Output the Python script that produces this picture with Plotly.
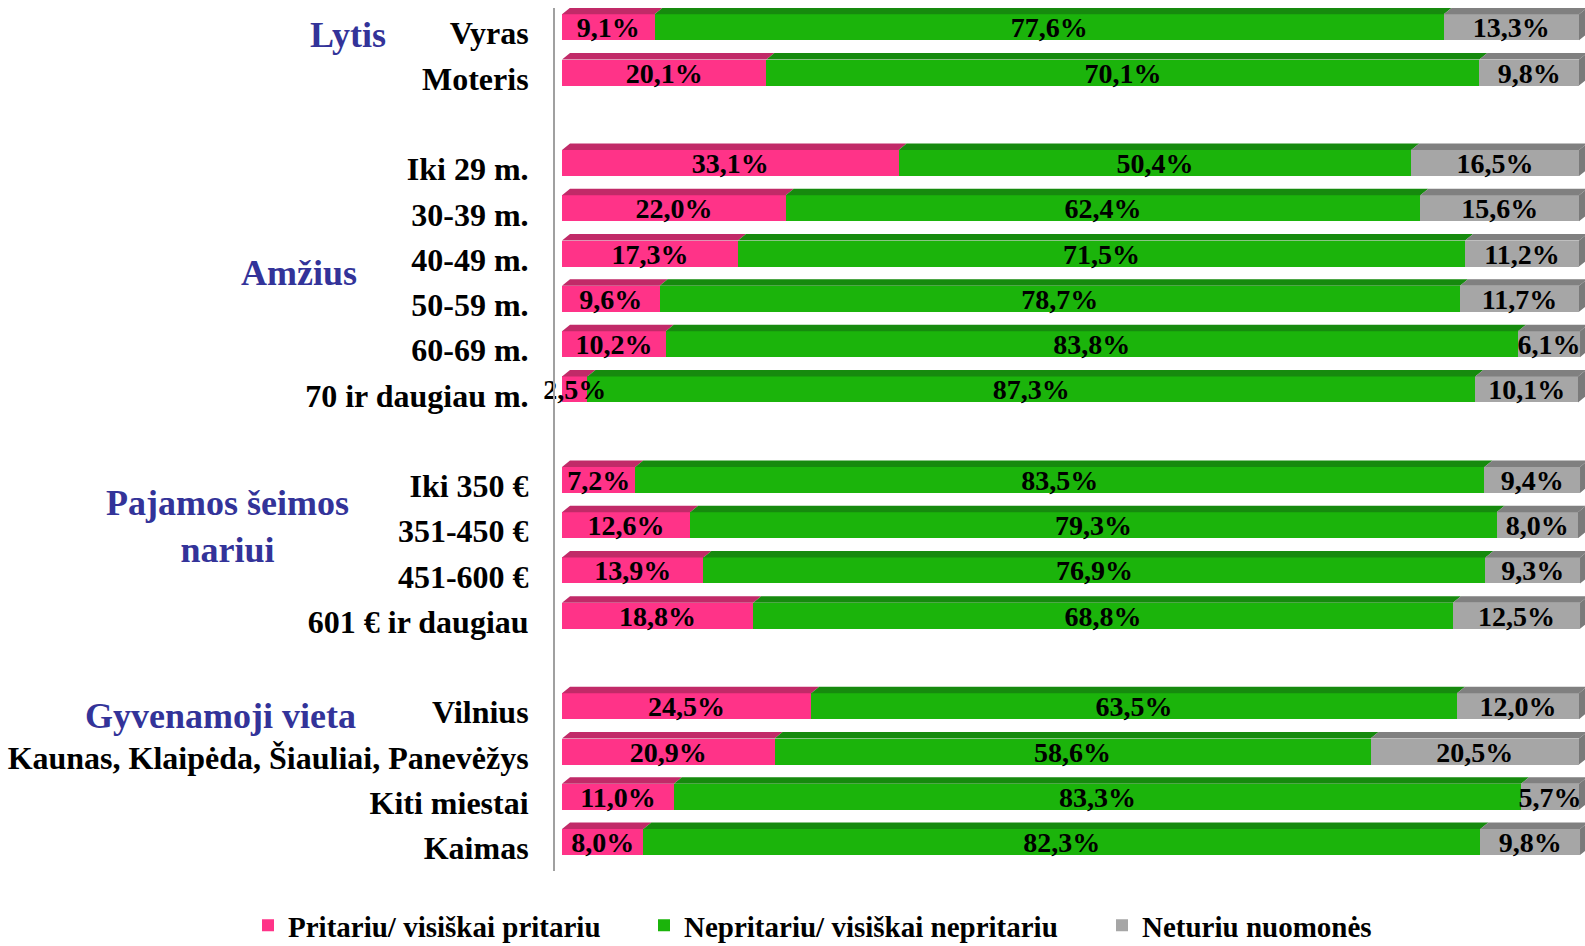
import plotly.graph_objects as go

# ---------------- data ----------------
categories = ["Vyras", "Moteris",
              "Iki 29 m.", "30-39 m.", "40-49 m.", "50-59 m.", "60-69 m.", "70 ir daugiau m.",
              "Iki 350 €", "351-450 €", "451-600 €", "601 € ir daugiau",
              "Vilnius", "Kaunas, Klaipėda, Šiauliai, Panevėžys", "Kiti miestai", "Kaimas"]
groups = ["Lytis", "Amžius", "Pajamos šeimos<br>nariui", "Gyvenamoji vieta"]
group_sizes = [2, 6, 4, 4]

pritariu = [9.1, 20.1, 33.1, 22.0, 17.3, 9.6, 10.2, 2.5, 7.2, 12.6, 13.9, 18.8, 24.5, 20.9, 11.0, 8.0]
nepritariu = [77.6, 70.1, 50.4, 62.4, 71.5, 78.7, 83.8, 87.3, 83.5, 79.3, 76.9, 68.8, 63.5, 58.6, 83.3, 82.3]
neturiu = [13.3, 9.8, 16.5, 15.6, 11.2, 11.7, 6.1, 10.1, 9.4, 8.0, 9.3, 12.5, 12.0, 20.5, 5.7, 9.8]

series_names = ["Pritariu/ visiškai pritariu", "Nepritariu/ visiškai nepritariu", "Neturiu nuomonės"]
series_values = [pritariu, nepritariu, neturiu]

# ---------------- styles / layout ----------------
front_colors = ["#FF3388", "#1BB40B", "#A6A6A6"]
top_colors = ["#C12A68", "#168A0E", "#808080"]
side_color = "#7A7A7A"
group_color = "#333399"
FONT = "Times New Roman, Liberation Serif, serif"

W, H = 1585, 946
ML, MR, MT, MB = 555, 0, 8, 75
XR = [-0.69, 100.59]
YR = [18.64, -0.426]
px_per_x = (W - ML - MR) / (XR[1] - XR[0])
px_per_y = (H - MT - MB) / (YR[0] - YR[1])
DX = 8 / px_per_x           # depth offset (x, data units)
DY = 6.5 / px_per_y         # depth offset (y, data units)
BW = 26 / px_per_y          # front face height
TICK_SHIFT = 6 / px_per_y   # category labels sit slightly below bar centre
LABEL_SHIFT = 3 / px_per_y  # value labels slightly below centre

# slot positions: each group followed by an empty slot
ypos = []
s = 0
for g in group_sizes:
    for _ in range(g):
        ypos.append(s)
        s += 1
    s += 1

def fmt(v):
    return f"{v:.1f}".replace(".", ",") + "%"

fig = go.Figure()

# front faces (stacked bars)
legend_ids = ["legend", "legend2", "legend3"]
for name, vals, col, lid in zip(series_names, series_values, front_colors, legend_ids):
    fig.add_trace(go.Bar(
        x=vals, y=ypos, orientation="h", name=name, width=BW,
        marker=dict(color=col, line=dict(width=0)),
        hoverinfo="x+name", legend=lid,
    ))

# top faces and right side faces (3D effect), derived from the data
for k, (vals, tcol) in enumerate(zip(series_values, top_colors)):
    xs, ys = [], []
    for i, y in enumerate(ypos):
        x0 = sum(series_values[j][i] for j in range(k))
        x1 = x0 + vals[i]
        yt = y - BW / 2
        xs += [x0, x1, x1 + DX, x0 + DX, x0, None]
        ys += [yt, yt, yt - DY, yt - DY, yt, None]
    fig.add_trace(go.Scatter(x=xs, y=ys, fill="toself", fillcolor=tcol, mode="none",
                             showlegend=False, hoverinfo="skip"))

xs, ys = [], []
for i, y in enumerate(ypos):
    xe = sum(series_values[j][i] for j in range(3))
    yt, yb = y - BW / 2, y + BW / 2
    xs += [xe, xe + DX, xe + DX, xe, xe, None]
    ys += [yt, yt - DY, yb - DY, yb, yt, None]
fig.add_trace(go.Scatter(x=xs, y=ys, fill="toself", fillcolor=side_color, mode="none",
                         showlegend=False, hoverinfo="skip"))

# data labels
lx, ly, lt = [], [], []
for k, vals in enumerate(series_values):
    for i, y in enumerate(ypos):
        x0 = sum(series_values[j][i] for j in range(k))
        lx.append(x0 + vals[i] / 2)
        ly.append(y + LABEL_SHIFT)
        lt.append(fmt(vals[i]))
fig.add_trace(go.Scatter(x=lx, y=ly, text=lt, mode="text", textposition="middle center",
                         textfont=dict(family=FONT, size=28, color="black", weight="bold"),
                         showlegend=False, hoverinfo="skip", cliponaxis=False))

# group labels
group_label_x = [348, 299, 227, 220]
group_label_y = [0.17, 5.43, 11.02, 15.21]
for g, gx, gy in zip(groups, group_label_x, group_label_y):
    fig.add_annotation(text=g, x=(gx - ML) / (W - ML - MR), xref="paper", y=gy, yref="y",
                       xanchor="center", yanchor="middle", showarrow=False, align="center",
                       font=dict(family=FONT, size=36, color=group_color, weight="bold"))

legend_common = dict(orientation="h", yanchor="middle", xanchor="left", y=-0.063,
                     font=dict(family=FONT, size=29, color="black", weight="bold"),
                     bgcolor="rgba(0,0,0,0)", borderwidth=0)
leg_px = [248, 644, 1102]

fig.update_layout(
    width=W, height=H,
    margin=dict(l=ML, r=MR, t=MT, b=MB, autoexpand=False),
    barmode="stack",
    plot_bgcolor="white", paper_bgcolor="white",
    showlegend=True,
    legend=dict(x=(leg_px[0] - ML) / (W - ML - MR), **legend_common),
    legend2=dict(x=(leg_px[1] - ML) / (W - ML - MR), **legend_common),
    legend3=dict(x=(leg_px[2] - ML) / (W - ML - MR), **legend_common),
    xaxis=dict(range=XR, visible=False, fixedrange=True),
    yaxis=dict(range=YR, tickmode="array", tickvals=[y + TICK_SHIFT for y in ypos],
               ticktext=categories, automargin=False, fixedrange=True,
               showgrid=False, zeroline=False, ticks="", ticklabelstandoff=18,
               showline=True, linecolor="#A0A0A0", linewidth=2,
               tickfont=dict(family=FONT, size=32, color="black", weight="bold")),
)

# remove the browser's default 8px page margin so the figure fills the window exactly
fig.write_html("out.html",
               config={"displayModeBar": False},
               post_script="document.body.style.margin='0';document.body.style.overflow='hidden';")
